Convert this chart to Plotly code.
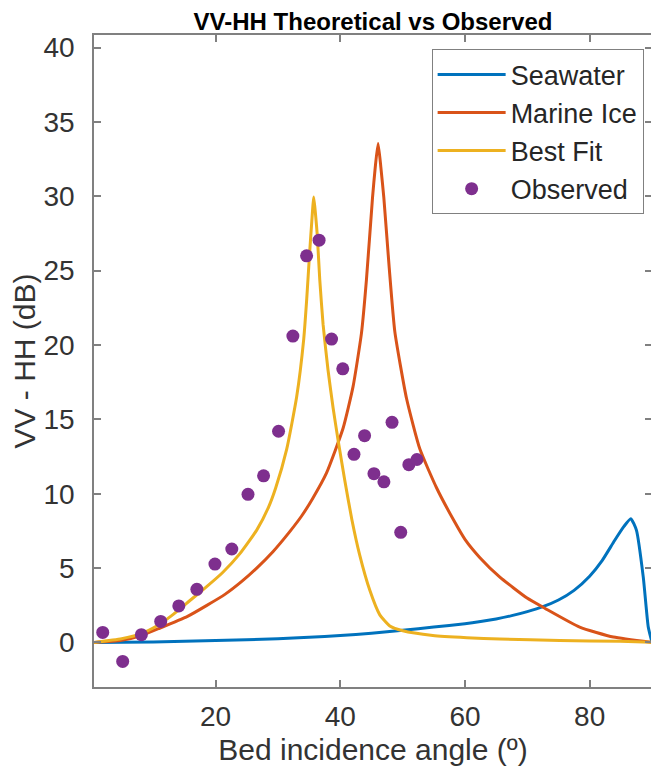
import plotly.graph_objects as go

# ---- data ----
sea_x = [0.5, 10, 20, 30, 35, 40, 45, 50, 55, 60, 62.5, 65, 67.5, 70, 72.5, 75, 77.5, 80, 82, 84, 85.5, 86.6, 87.5, 88.6, 89.4, 90]
sea_y = [0, 0.03, 0.12, 0.25, 0.34, 0.46, 0.62, 0.82, 1.03, 1.25, 1.4, 1.58, 1.8, 2.07, 2.4, 2.85, 3.5, 4.45, 5.5, 6.85, 7.8, 8.32, 7.55, 4.39, 1.03, 0]

ice_x = [0.5, 4.9, 8.0, 11.0, 15.5, 18.6, 21.5, 24.2, 26.6, 29.2, 31.9, 33.8, 35.6, 37.8, 40.45, 42.05, 43.4, 44.2, 45.17, 45.62, 46.07,
         46.5, 46.99, 47.83, 48.75, 50.63, 52.77, 55.44, 58.2, 60.0, 62.4, 65.6, 69.9, 72.8, 78.4, 83.8, 90]
ice_y = [0, 0.15, 0.45, 0.95, 1.75, 2.49, 3.23, 4.1, 5.0, 6.1, 7.45, 8.5, 9.7, 11.4, 14.4, 17.2, 20.8, 24.4, 29.9, 32.0, 33.56,
         32.0, 29.9, 25.3, 20.9, 16.4, 13.0, 10.4, 8.21, 6.93, 5.7, 4.39, 3.0, 2.3, 1.03, 0.36, 0]

fit_x = [0.5, 4.93, 7.98, 10.55, 12.95, 15.84, 18.57, 21.14, 23.87, 26.6, 28.5, 29.65, 31.41, 33.0, 34.14, 34.62, 35.1, 35.43, 35.75,
         36.07, 36.31, 36.71, 37.24, 38.04, 38.84, 39.65, 40.72, 41.84, 43.1, 44.74, 46.34, 47.95, 50.03, 54.85, 60.3, 65.6, 75.2, 84.9, 90]
fit_y = [0, 0.25, 0.57, 1.1, 1.8, 2.8, 3.75, 4.7, 5.95, 7.55, 9.1, 10.4, 13.0, 16.5, 20.4, 23.1, 26.3, 28.3, 29.95,
         28.6, 27.4, 24.4, 21.4, 18.3, 15.8, 13.6, 10.9, 8.3, 5.9, 3.5, 1.85, 1.1, 0.78, 0.47, 0.32, 0.22, 0.13, 0.07, 0]

obs_x = [1.9, 5.1, 8.1, 11.2, 14.1, 17.0, 19.9, 22.6, 25.2, 27.7, 30.1, 32.4, 34.6, 36.6, 38.6, 40.4, 42.2, 43.9, 45.4, 47.0, 48.3, 49.7, 51.0, 52.3]
obs_y = [0.67, -1.28, 0.52, 1.41, 2.45, 3.57, 5.27, 6.28, 9.96, 11.2, 14.2, 20.6, 26.0, 27.05, 20.4, 18.4, 12.65, 13.9, 11.35, 10.8, 14.8, 7.4, 11.95, 12.3]

x_ticks = [20, 40, 60, 80]
y_ticks = [0, 5, 10, 15, 20, 25, 30, 35, 40]

FONT = "Liberation Sans, Arial, sans-serif"
AX = "#808080"

# the page body adds an 8 px offset; the figure is sized so the plot area lands where the reference has it
W, H = 651, 764

fig = go.Figure()
fig.add_trace(go.Scatter(x=sea_x, y=sea_y, mode="lines", name="Seawater",
                         line=dict(color="#0072BD", width=3, shape="spline", smoothing=0.5)))
fig.add_trace(go.Scatter(x=ice_x, y=ice_y, mode="lines", name="Marine Ice",
                         line=dict(color="#D95319", width=3, shape="spline", smoothing=0.5)))
fig.add_trace(go.Scatter(x=fit_x, y=fit_y, mode="lines", name="Best Fit",
                         line=dict(color="#EDB120", width=3, shape="spline", smoothing=0.5)))
fig.add_trace(go.Scatter(x=obs_x, y=obs_y, mode="markers", name="Observed",
                         marker=dict(color="#7E2F8E", size=13)))

axis_common = dict(showgrid=False, zeroline=False, showline=True, linecolor=AX, linewidth=1.5,
                   mirror="ticks", ticks="inside", ticklen=7, tickwidth=1.5, tickcolor=AX,
                   automargin=False,
                   tickfont=dict(family=FONT, size=28, color="#333333"))

fig.update_layout(
    width=W, height=H,
    margin=dict(l=86, r=7, t=27, b=85),
    paper_bgcolor="white", plot_bgcolor="white",
    title=dict(text="<b>VV-HH Theoretical vs Observed</b>", x=0.5, xref="paper", xanchor="center",
               y=1 - 14 / H, yref="container", yanchor="middle",
               font=dict(family=FONT, size=24, color="#000000")),
    xaxis=dict(range=[0.5, 90], tickvals=x_ticks, ticklabelstandoff=4,
               title=dict(text="Bed incidence angle (º)", font=dict(family=FONT, size=30, color="#333333"), standoff=8),
               **axis_common),
    yaxis=dict(range=[-3, 40.85], tickvals=y_ticks, ticklabelstandoff=12,
               title=dict(text="VV - HH (dB)", font=dict(family=FONT, size=30, color="#333333"), standoff=0),
               **axis_common),
    legend=dict(x=0.985, y=0.978, xanchor="right", yanchor="top", bgcolor="white",
                bordercolor=AX, borderwidth=1, itemwidth=68,
                font=dict(family=FONT, size=27, color="#262626")),
    showlegend=True,
)

fig.write_html("out.html")
